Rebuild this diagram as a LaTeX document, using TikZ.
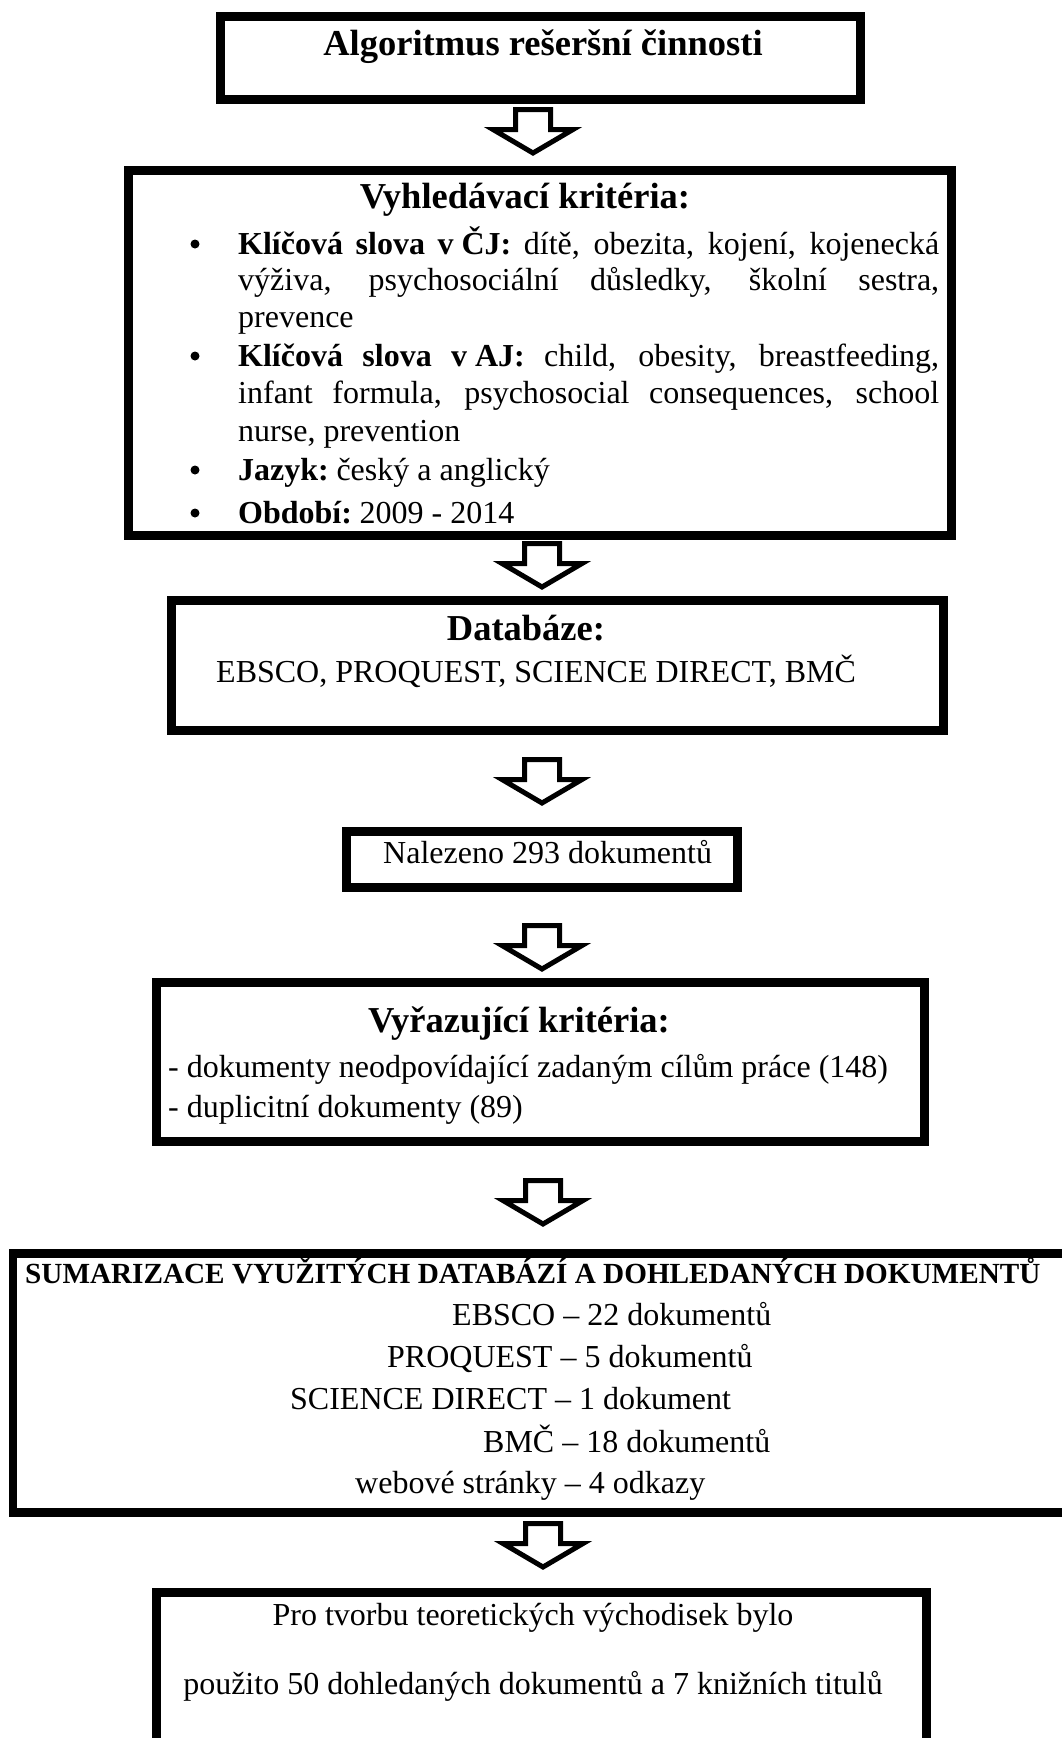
\documentclass[tikz,border=0pt]{standalone}
\usepackage{fontspec}
\setmainfont{Liberation Serif}
\tikzset{
  box/.style={draw, line width=8.5pt, rectangle, inner sep=0pt},
  txt/.style={inner sep=0pt, font=\fontsize{32}{38}\selectfont},
  ttl/.style={inner sep=0pt, font=\fontsize{36.5}{42}\selectfont\bfseries},
  sumttl/.style={inner sep=0pt, font=\fontsize{29.2}{34}\selectfont\bfseries},
  bdot/.style={circle, fill, inner sep=0pt, minimum size=9pt},
  downarr/.pic={\draw[line width=5pt, line join=miter, miter limit=10]
     (-17.5,2.5) -- (17.5,2.5) -- (17.5,22.5) -- (40,22.5) -- (0,46) -- (-40,22.5) -- (-17.5,22.5) -- cycle;}
}
\newcommand{\jline}[1]{\makebox[701pt][s]{#1}}
\begin{document}
\begin{tikzpicture}[x=1pt,y=-1pt]
\useasboundingbox (0,0) rectangle (1062,1738);
\clip (0,0) rectangle (1062,1738);
\fill[white] (0,0) rectangle (1062,1738);

% boxes
\node[box, minimum width=640pt, minimum height=83pt] (b1) at (540.5,58) {};
\node[box, minimum width=823pt, minimum height=365pt] (b2) at (540,353) {};
\node[box, minimum width=772pt, minimum height=130pt] (b3) at (557.5,665.5) {};
\node[box, minimum width=391pt, minimum height=56pt] (b4) at (542,859.5) {};
\node[box, minimum width=768pt, minimum height=159pt] (b5) at (540.5,1062) {};
\node[box, minimum width=1087pt, minimum height=259pt] (b6) at (556.5,1383) {};
\node[box, minimum width=770pt, minimum height=197pt] (b7) at (541.5,1691) {};

% box 1
\node[ttl, anchor=base] (t1) at (543,55) {Algoritmus rešeršní činnosti};

% box 2
\node[ttl, anchor=base] (t2) at (525,208) {Vyhledávací kritéria:};
\node[bdot] (d1) at (195,244) {};
\node[txt, anchor=base west] (l1) at (238,254) {\jline{\textbf{Klíčová slova \mbox{v ČJ:}} dítě, obezita, kojení, kojenecká}};
\node[txt, anchor=base west] (l2) at (238,290) {\jline{výživa, psychosociální důsledky, školní sestra,}};
\node[txt, anchor=base west] (l3) at (238,327) {prevence};
\node[bdot] (d2) at (195,356) {};
\node[txt, anchor=base west] (l4) at (238,366) {\jline{\textbf{Klíčová slova \mbox{v AJ:}} child, obesity, breastfeeding,}};
\node[txt, anchor=base west] (l5) at (238,403) {\jline{infant formula, psychosocial consequences, school}};
\node[txt, anchor=base west] (l6) at (238,441) {nurse, prevention};
\node[bdot] (d3) at (195,470) {};
\node[txt, anchor=base west] (l7) at (238,480) {\textbf{Jazyk:}\hspace{-3pt} český a anglický};
\node[bdot] (d4) at (195,513) {};
\node[txt, anchor=base west] (l8) at (238,523) {\textbf{Období:}\hspace{-3pt} 2009 - 2014};

% box 3
\node[ttl, anchor=base] (t3) at (526,640) {Databáze:};
\node[txt, anchor=base west] (t3b) at (216,682) {EBSCO, PROQUEST, SCIENCE DIRECT, BMČ};

% box 4
\node[txt, anchor=base west] (t4) at (383,863) {Nalezeno 293 dokumentů};

% box 5
\node[ttl, anchor=base] (t5) at (519,1032) {Vyřazující kritéria:};
\node[txt, anchor=base west] (t5a) at (168,1077) {- dokumenty neodpovídající zadaným cílům práce (148)};
\node[txt, anchor=base west] (t5b) at (168,1117) {- duplicitní dokumenty (89)};

% box 6
\node[sumttl, anchor=base west] (t6) at (25,1283) {SUMARIZACE VYUŽITÝCH DATABÁZÍ A DOHLEDANÝCH DOKUMENTŮ};
\node[txt, anchor=base west] (s1) at (452,1325) {EBSCO – 22 dokumentů};
\node[txt, anchor=base west] (s2) at (387,1367) {PROQUEST – 5 dokumentů};
\node[txt, anchor=base west] (s3) at (290,1409) {SCIENCE DIRECT – 1 dokument};
\node[txt, anchor=base west] (s4) at (483,1452) {BMČ – 18 dokumentů};
\node[txt, anchor=base west] (s5) at (355,1493) {webové stránky – 4 odkazy};

% box 7
\node[txt, anchor=base] (t7a) at (533,1625) {Pro tvorbu teoretických východisek bylo};
\node[txt, anchor=base] (t7b) at (533,1694) {použito 50 dohledaných dokumentů a 7 knižních titulů};

% block arrows
\pic at (533,107) {downarr};
\pic at (542,541) {downarr};
\pic at (542,757) {downarr};
\pic at (542,923) {downarr};
\pic at (543,1178) {downarr};
\pic at (543,1521) {downarr};
\end{tikzpicture}
\end{document}
